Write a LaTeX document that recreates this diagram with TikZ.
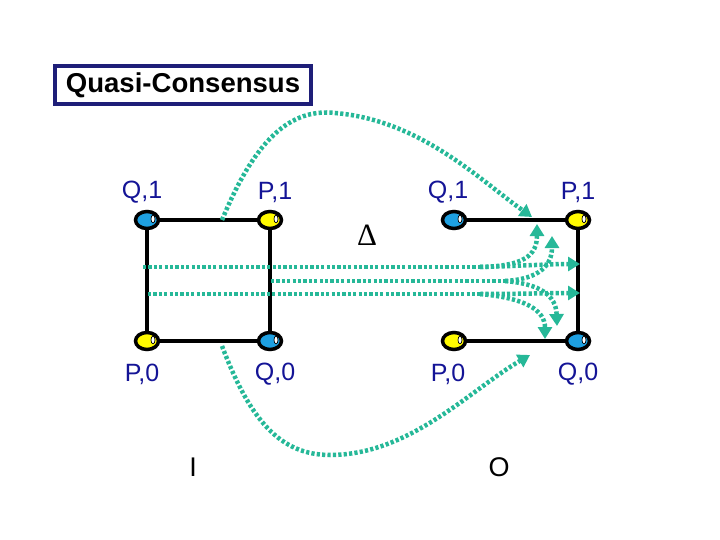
\documentclass[tikz,border=0pt]{standalone}
\usepackage{fontspec}
\setmainfont{Liberation Sans}
\newfontfamily\serifdelta{Liberation Serif}
\usetikzlibrary{arrows.meta,shapes.geometric,calc}
\definecolor{teal2}{RGB}{38,184,152}
\definecolor{lblue}{RGB}{20,20,150}
\definecolor{navy}{RGB}{30,30,120}
\definecolor{vblue}{RGB}{30,160,225}
\definecolor{vyel}{RGB}{255,250,0}
\tikzset{
  vtx/.style={ellipse,draw=black,line width=3.5pt,minimum width=23pt,minimum height=17pt,inner sep=0pt},
  vb/.style={vtx,fill=vblue},
  vy/.style={vtx,fill=vyel},
  lbl/.style={text=lblue,font=\fontsize{25}{28}\selectfont,inner sep=0pt},
  edge/.style={line width=4.5pt,black},
  flow/.style={draw=teal2,line width=4.5pt,dash pattern=on 3.2pt off 2.2pt,-{Triangle[length=12pt,width=14pt]}},
  flowp/.style={draw=teal2,line width=4.5pt,dash pattern=on 3.2pt off 2.2pt},
  io/.style={font=\fontsize{27}{30}\selectfont,inner sep=0pt}
}
\begin{document}
\begin{tikzpicture}[x=1pt,y=-1pt]
\useasboundingbox (0,0) rectangle (720,540);
% title
\node[draw=navy,line width=3.5pt,minimum width=256pt,minimum height=38pt,inner sep=0pt] (title) at (183,85)
  {\fontsize{26}{28}\selectfont\bfseries\scalebox{1.06}[1.05]{Quasi-Consensus}};
% left square
\node[vb] (lq1) at (147,220) {};
\node[vy] (lp1) at (270,220) {};
\node[vy] (lp0) at (147,341) {};
\node[vb] (lq0) at (270,341) {};
% right square
\node[vb] (rq1) at (454,220) {};
\node[vy] (rp1) at (578,220) {};
\node[vy] (rp0) at (454,341) {};
\node[vb] (rq0) at (578,341) {};
\draw[edge] (lq1) -- (lp1);
\draw[edge] (lp1) -- (lq0);
\draw[edge] (lq0) -- (lp0);
\draw[edge] (lp0) -- (lq1);
\draw[edge] (rq1) -- (rp1);
\draw[edge] (rp1) -- (rq0);
\draw[edge] (rq0) -- (rp0);
% highlights
\foreach \n in {lq1,lp1,lp0,lq0,rq1,rp1,rp0,rq0}{
  \draw[fill=white,line width=0.7pt] ($(\n)+(6,-1)$) ellipse (2pt and 3.8pt);
}
% labels
\node[lbl] (tlq1) at (142,192) {Q,1};
\node[lbl] (tlp1) at (275,192) {P,1};
\node[lbl] (tlp0) at (142,374) {P,0};
\node[lbl] (tlq0) at (275,374) {Q,0};
\node[lbl] (trq1) at (448,192) {Q,1};
\node[lbl] (trp1) at (578,192) {P,1};
\node[lbl] (trp0) at (448,374) {P,0};
\node[lbl] (trq0) at (578,374) {Q,0};
\node[inner sep=0pt] (delta) at (367,235) {\serifdelta\fontsize{31}{32}\selectfont Δ};
\node[io] (inI) at (193,467) {I};
\node[io] (outO) at (499,467) {O};
% flows
\coordinate (ts) at ($(lq1)!0.61!(lp1)$);
\coordinate (te) at (532,217);
\draw[flow] (ts) .. controls (255,140) and (290,108) .. (335,113)
  .. controls (420,120) and (480,180) .. (te);
\coordinate (bs) at (222,346);
\coordinate (be) at (530,355);
\draw[flow] (bs) .. controls (250,420) and (280,455) .. (330,455)
  .. controls (410,455) and (470,390) .. (be);
% horizontal bundle
\coordinate (a0) at (143,267);
\coordinate (a1) at (480,267);
\coordinate (ae) at (580,264);
\coordinate (au) at (537,224);
\coordinate (b0) at (271,281);
\coordinate (b1) at (505,281);
\coordinate (bu) at (552,236);
\coordinate (bd) at (557,326);
\coordinate (c0) at (148,294);
\coordinate (c1) at (480,294);
\coordinate (ce) at (580,293);
\coordinate (cd) at (545,339);
\draw[flowp] (a0) -- (a1);
\draw[flow] (a1) .. controls (520,266) and (550,264) .. (ae);
\draw[flow] (a1) .. controls (525,266) and (537,255) .. (au);
\draw[flowp] (b0) -- (b1);
\draw[flow] (b1) .. controls (540,279) and (552,265) .. (bu);
\draw[flow] (b1) .. controls (540,284) and (556,295) .. (bd);
\draw[flowp] (c0) -- (c1);
\draw[flow] (c1) .. controls (520,294) and (550,293) .. (ce);
\draw[flow] (c1) .. controls (525,298) and (545,310) .. (cd);
\end{tikzpicture}
\end{document}
